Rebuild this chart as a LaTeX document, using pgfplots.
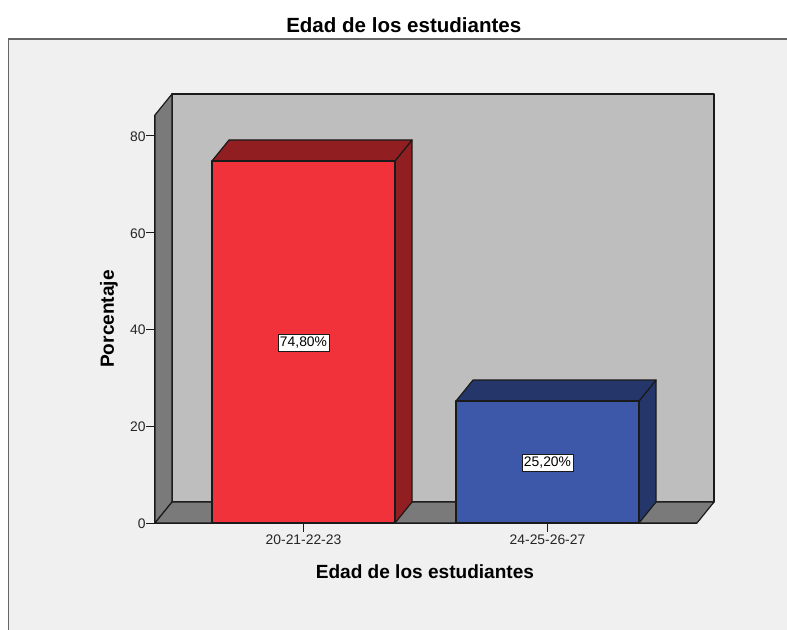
\documentclass[border=0pt]{standalone}
\usepackage{pgfplots}
\pgfplotsset{compat=1.18}
\usepackage{fontspec}
\setmainfont{Liberation Sans}
\definecolor{bgc}{HTML}{F0F0F0}
\definecolor{wall}{HTML}{BEBEBE}
\definecolor{side}{HTML}{7A7A7A}
\definecolor{redf}{HTML}{F2323A}
\definecolor{redd}{HTML}{911F22}
\definecolor{bluef}{HTML}{3E58A9}
\definecolor{blued}{HTML}{25376A}
\definecolor{edge}{HTML}{1A1A1A}
\begin{document}
\begin{tikzpicture}[x=0.75pt,y=0.75pt]
\path[use as bounding box] (0,0) rectangle (787,630);
\fill[bgc] (8.5,0) rectangle (787,591);
\draw[color=gray!80!black,line width=0.8pt] (8.5,0) -- (8.5,591) -- (787,591);
\begin{axis}[
  at={(116.25pt,80.25pt)},anchor=south west,
  scale only axis,width=406.5pt,height=306pt,
  clip=false,
  xmin=-0.6086,xmax=1.6127,ymin=0,ymax=84.3,
  axis x line=bottom,axis y line=left,
  axis line style={-,edge,line width=0.9pt},
  tick align=outside,major tick length=6.5pt,
  tick style={edge,line width=0.7pt},
  ytick={0,20,40,60,80},
  xtick={0,1},xticklabels={20-21-22-23,24-25-26-27},
  minor tick num=0,
  /pgf/number format/assume math mode=true,
  tick label style={font=\fontsize{10.4}{12}\selectfont,color=black!85},
  xticklabel style={yshift=1pt},
  yticklabel style={xshift=3pt,yshift=-0.6pt},
  title={\fontsize{15.4}{17}\selectfont\bfseries Edad de los estudiantes},
  title style={at={(axis description cs:0.459,1.2157)},anchor=center,yshift=-5pt},
  xlabel={\fontsize{14.3}{17}\selectfont\bfseries Edad de los estudiantes},
  xlabel style={at={(axis description cs:0.498,-0.12)},anchor=center},
  ylabel={\fontsize{14.3}{17}\selectfont\bfseries Porcentaje},
  ylabel style={at={(axis description cs:-0.0867,0.5)},anchor=center,rotate=0,yshift=-0.7pt},
  every axis plot/.append style={line width=0.9pt,draw=edge,line join=round},
]
% walls
\addplot[fill=wall] coordinates {(-0.5389,4.34) (1.6824,4.34) (1.6824,88.64) (-0.5389,88.64)} --cycle;
\addplot[fill=side] coordinates {(-0.6086,0) (-0.5389,4.34) (-0.5389,88.64) (-0.6086,84.3)} --cycle;
\addplot[fill=side] coordinates {(-0.6086,0) (1.6127,0) (1.6824,4.34) (-0.5389,4.34)} --cycle;
% bar 1
\addplot[fill=redd] coordinates {(0.375,0) (0.4447,4.34) (0.4447,79.14) (0.375,74.8)} --cycle;
\addplot[fill=redd] coordinates {(-0.375,74.8) (-0.3053,79.14) (0.4447,79.14) (0.375,74.8)} --cycle;
\addplot[fill=redf] coordinates {(-0.375,0) (-0.375,74.8) (0.375,74.8) (0.375,0)} --cycle;
% bar 2
\addplot[fill=blued] coordinates {(1.375,0) (1.4447,4.34) (1.4447,29.54) (1.375,25.2)} --cycle;
\addplot[fill=blued] coordinates {(0.625,25.2) (0.6947,29.54) (1.4447,29.54) (1.375,25.2)} --cycle;
\addplot[fill=bluef] coordinates {(0.625,0) (0.625,25.2) (1.375,25.2) (1.375,0)} --cycle;
% labels
\node[fill=white,draw=edge,line width=0.7pt,inner xsep=1.5pt,inner ysep=2.4pt,font=\fontsize{10.4}{12}\selectfont] at (axis cs:0,37.2) {74,80\%};
\node[fill=white,draw=edge,line width=0.7pt,inner xsep=1.5pt,inner ysep=2.4pt,font=\fontsize{10.4}{12}\selectfont] at (axis cs:1,12.4) {25,20\%};
\end{axis}
\end{tikzpicture}
\end{document}
